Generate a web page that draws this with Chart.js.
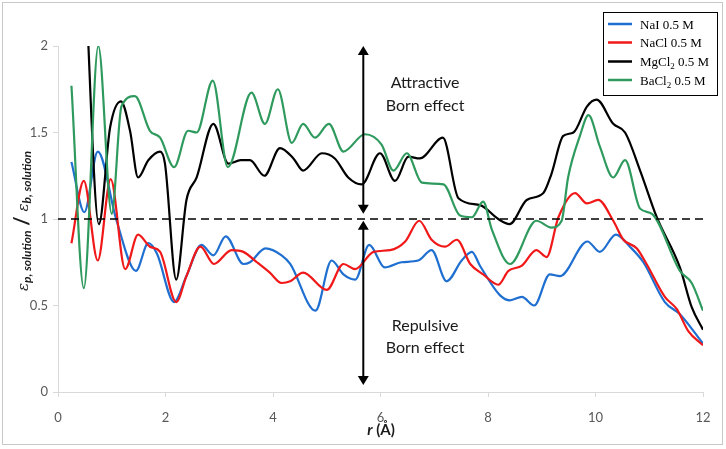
<!DOCTYPE html>
<html>
<head>
<meta charset="utf-8">
<script src="https://cdn.jsdelivr.net/npm/chart.js@4.4.1/dist/chart.umd.min.js"></script>
<style>
  html, body { margin: 0; padding: 0; background: #ffffff; }
  canvas { display: block; }
</style>
</head>
<body>
<canvas id="c" width="726" height="449"></canvas>
<script>
// ---- data (r in Å, ratio ε_p,solution / ε_b,solution) ----
const xTicks = [0, 2, 4, 6, 8, 10, 12];
const yTicks = [0, 0.5, 1, 1.5, 2];
const seriesNames = ['NaI 0.5 M', 'NaCl 0.5 M', 'MgCl2 0.5 M', 'BaCl2 0.5 M'];

const naiR = [0.25,0.49,0.74,1.09,1.45,1.68,1.84,2.16,2.39,2.67,2.89,3.12,3.45,3.57,3.86,4.16,4.32,4.79,5.09,5.31,5.53,5.79,6.08,6.39,6.70,6.95,7.23,7.51,7.70,7.85,8.22,8.41,8.63,8.86,9.15,9.34,9.85,10.08,10.38,10.64,10.89,11.29,11.57,12.0];
const naiVal = [1.33,1.04,1.39,0.99,0.70,0.86,0.80,0.52,0.67,0.85,0.79,0.90,0.74,0.75,0.83,0.79,0.74,0.47,0.76,0.68,0.65,0.85,0.72,0.75,0.76,0.82,0.64,0.76,0.81,0.73,0.56,0.53,0.55,0.50,0.68,0.67,0.87,0.81,0.91,0.84,0.75,0.52,0.45,0.28];

const naclR = [0.25,0.48,0.74,0.98,1.25,1.49,1.71,1.90,2.20,2.39,2.65,2.90,3.23,3.45,3.70,3.94,4.16,4.32,4.56,5.0,5.31,5.53,5.87,6.18,6.46,6.72,6.95,7.2,7.42,7.67,7.91,8.19,8.38,8.63,8.9,9.09,9.31,9.62,9.84,10.05,10.33,10.52,10.77,10.95,11.29,11.51,11.73,12.0];
const naclVal = [0.86,1.22,0.76,1.23,0.71,0.91,0.84,0.81,0.52,0.67,0.84,0.74,0.82,0.81,0.75,0.69,0.63,0.64,0.69,0.59,0.74,0.71,0.81,0.82,0.87,0.99,0.88,0.84,0.88,0.74,0.68,0.62,0.70,0.73,0.82,0.78,1.01,1.15,1.09,1.11,0.99,0.88,0.83,0.74,0.55,0.48,0.35,0.27];

const mgR = [0.5,0.76,0.97,1.17,1.34,1.49,1.68,1.90,1.99,2.2,2.39,2.58,2.89,3.17,3.4,3.57,3.84,4.13,4.38,4.56,4.91,5.15,5.40,5.65,5.99,6.27,6.52,6.73,7.16,7.45,7.85,8.19,8.40,8.72,9.03,9.18,9.40,9.59,9.84,10.02,10.33,10.55,10.83,11.14,11.57,11.79,12.0];
const mgVal = [2.45,0.97,1.53,1.68,1.51,1.24,1.34,1.39,1.32,0.65,1.11,1.24,1.55,1.32,1.34,1.34,1.25,1.41,1.35,1.28,1.38,1.35,1.24,1.20,1.38,1.22,1.36,1.35,1.47,1.12,1.08,1.00,0.97,1.11,1.15,1.26,1.48,1.50,1.65,1.69,1.55,1.50,1.28,1.01,0.72,0.49,0.36];

const baR = [0.25,0.48,0.75,1.0,1.18,1.43,1.71,1.9,2.16,2.42,2.58,2.88,3.16,3.6,3.85,4.09,4.35,4.56,4.78,5.04,5.31,5.71,6.02,6.24,6.49,6.77,7.17,7.48,7.70,7.91,8.07,8.41,8.9,9.18,9.37,9.49,9.71,9.87,10.08,10.33,10.55,10.83,11.05,11.57,11.79,12.0];
const baVal = [1.77,0.60,2.00,1.03,1.65,1.71,1.51,1.47,1.30,1.51,1.50,1.80,1.30,1.73,1.55,1.75,1.44,1.55,1.47,1.55,1.39,1.49,1.43,1.28,1.38,1.21,1.20,1.02,1.01,1.10,0.94,0.74,0.99,0.95,0.99,1.24,1.48,1.60,1.42,1.24,1.34,1.06,1.03,0.70,0.63,0.47];

const refR = [0, 12];
const refVal = [1, 1];

// annotation arrows (data units)
const arrowR = 5.68;
const arrowUp = [2.0, 1.03];
const arrowDown = [0.99, 0.04];

const colors = ['#1f6fd1', '#f01818', '#000000', '#2f9a5e'];

function pts(xs, ys) { return xs.map((x, i) => ({ x: x, y: ys[i] })); }

const lineDs = (label, xs, ys, color, order) => ({
  label, data: pts(xs, ys), borderColor: color, backgroundColor: color,
  borderWidth: 2.2, pointRadius: 0, showLine: true,
  cubicInterpolationMode: 'monotone', order: order
});

const FONT = 'Lato, "Open Sans", sans-serif';

const decor = {
  id: 'decor',
  afterDatasetsDraw(chart) {
    const ctx = chart.ctx, xs = chart.scales.x, ys = chart.scales.y;
    const px = xs.getPixelForValue(arrowR);
    function arrow(y1, y2) {
      const a = ys.getPixelForValue(y1), b = ys.getPixelForValue(y2);
      ctx.save();
      ctx.strokeStyle = '#000'; ctx.fillStyle = '#000'; ctx.lineWidth = 2;
      ctx.beginPath(); ctx.moveTo(px, a + 6); ctx.lineTo(px, b - 6); ctx.stroke();
      ctx.beginPath(); ctx.moveTo(px, a); ctx.lineTo(px - 5.5, a + 9); ctx.lineTo(px + 5.5, a + 9); ctx.closePath(); ctx.fill();
      ctx.beginPath(); ctx.moveTo(px, b); ctx.lineTo(px - 5.5, b - 9); ctx.lineTo(px + 5.5, b - 9); ctx.closePath(); ctx.fill();
      ctx.restore();
    }
    arrow(arrowUp[0], arrowUp[1]);
    arrow(arrowDown[0], arrowDown[1]);

    ctx.save();
    ctx.fillStyle = '#1a1a1a';
    ctx.font = '16px ' + FONT;
    ctx.textAlign = 'center'; ctx.textBaseline = 'middle';
    const tx = xs.getPixelForValue(6.83);
    ctx.fillText('Attractive', tx, ys.getPixelForValue(1.786));
    ctx.fillText('Born effect', tx, ys.getPixelForValue(1.655));
    ctx.fillText('Repulsive', tx, ys.getPixelForValue(0.38));
    ctx.fillText('Born effect', tx, ys.getPixelForValue(0.256));
    ctx.restore();
  },
  afterDraw(chart) {
    const ctx = chart.ctx;
    ctx.save();
    // outer frame
    ctx.strokeStyle = '#c8c8c8'; ctx.lineWidth = 1;
    ctx.strokeRect(2.5, 2.5, 720, 442);

    // legend box
    ctx.strokeStyle = '#000'; ctx.lineWidth = 1;
    ctx.fillStyle = '#fff';
    ctx.fillRect(603.5, 12.5, 114, 83);
    ctx.strokeRect(603.5, 12.5, 114, 83);
    const rows = [24, 42.5, 61.5, 80];
    const parts = [
      [['NaI 0.5 M', 0]],
      [['NaCl 0.5 M', 0]],
      [['MgCl', 0], ['2', 1], [' 0.5 M', 0]],
      [['BaCl', 0], ['2', 1], [' 0.5 M', 0]]
    ];
    rows.forEach((ry, i) => {
      ctx.strokeStyle = colors[i]; ctx.lineWidth = 2.5;
      ctx.beginPath(); ctx.moveTo(608, ry); ctx.lineTo(632, ry); ctx.stroke();
      let x = 640;
      ctx.fillStyle = '#000'; ctx.textBaseline = 'alphabetic'; ctx.textAlign = 'left';
      parts[i].forEach(([t, sub]) => {
        ctx.font = sub ? '9px "Liberation Serif", serif' : '13px "Liberation Serif", serif';
        ctx.fillText(t, x, ry + 4.5 + (sub ? 3 : 0));
        x += ctx.measureText(t).width;
      });
    });

    // x title: r (Å)
    ctx.fillStyle = '#1a1a1a';
    ctx.textBaseline = 'alphabetic'; ctx.textAlign = 'left';
    const xt = [['r', 'bold italic 15px ' + FONT], [' (Å)', 'bold 15px ' + FONT]];
    let w = 0;
    xt.forEach(([t, f]) => { ctx.font = f; w += ctx.measureText(t).width; });
    let x0 = 381 - w / 2;
    xt.forEach(([t, f]) => { ctx.font = f; ctx.fillText(t, x0, 435); x0 += ctx.measureText(t).width; });

    // y title
    ctx.translate(28, 221);
    ctx.rotate(-Math.PI / 2);
    const yt = [
      ['ε', 'italic 15px "DejaVu Serif", serif', 0],
      ['p, solution', 'bold italic 12px ' + FONT, 3],
      [' / ', 'bold 20px ' + FONT, 1],
      ['ε', 'italic 15px "DejaVu Serif", serif', 0],
      ['b, solution', 'bold italic 12px ' + FONT, 3]
    ];
    w = 0;
    yt.forEach(([t, f]) => { ctx.font = f; w += ctx.measureText(t).width; });
    x0 = -w / 2;
    yt.forEach(([t, f, dy]) => { ctx.font = f; ctx.fillText(t, x0, dy); x0 += ctx.measureText(t).width; });
    ctx.restore();
  }
};

new Chart(document.getElementById('c'), {
  type: 'scatter',
  data: {
    datasets: [
      { label: 'ref', data: pts(refR, refVal), borderColor: '#000', borderWidth: 1.6,
        borderDash: [8, 5], pointRadius: 0, showLine: true, order: 0 },
      lineDs(seriesNames[3], baR, baVal, colors[3], 1),
      lineDs(seriesNames[2], mgR, mgVal, colors[2], 2),
      lineDs(seriesNames[1], naclR, naclVal, colors[1], 3),
      lineDs(seriesNames[0], naiR, naiVal, colors[0], 4)
    ]
  },
  options: {
    responsive: false,
    animation: false,
    devicePixelRatio: 1,
    layout: { padding: { left: 0, right: 23, top: 46, bottom: 0 } },
    plugins: { legend: { display: false }, tooltip: { enabled: false } },
    scales: {
      x: {
        type: 'linear', min: 0, max: 12,
        afterBuildTicks: (s) => { s.ticks = xTicks.map(v => ({ value: v })); },
        afterFit: (s) => { s.height = 57; },
        grid: { display: true, drawOnChartArea: false, drawTicks: true, tickLength: 5, color: '#d9d9d9' },
        border: { color: '#d9d9d9', width: 1 },
        ticks: { color: '#595959', font: { family: FONT, size: 13 }, padding: 13, maxRotation: 0,
                 callback: (v) => String(v) }
      },
      y: {
        type: 'linear', min: 0, max: 2,
        afterBuildTicks: (s) => { s.ticks = yTicks.map(v => ({ value: v })); },
        afterFit: (s) => { s.width = 58; },
        grid: { display: true, drawOnChartArea: false, drawTicks: true, tickLength: 5, color: '#d9d9d9' },
        border: { color: '#d9d9d9', width: 1 },
        ticks: { color: '#595959', font: { family: FONT, size: 13 }, padding: 5,
                 callback: (v) => String(v) }
      }
    }
  },
  plugins: [decor]
});
</script>
</body>
</html>
